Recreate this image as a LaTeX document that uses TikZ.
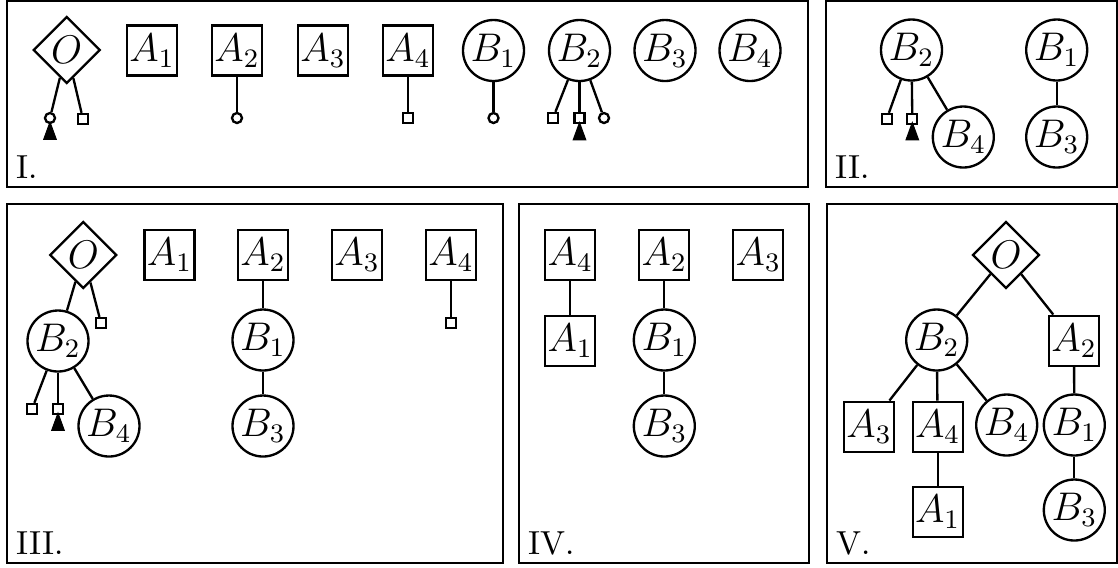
\documentclass[tikz,border=0pt]{standalone}
\usepackage{amsmath}
\usetikzlibrary{shapes}

\begin{document}
\begin{tikzpicture}[x=0.3pt,y=-0.3pt]
\useasboundingbox (0,0) rectangle (1118,567);
\begin{scope}
	\tikzstyle{every node}=[font=\large, line width=0.7pt, inner sep=0pt, align=center]
	\tikzstyle{amod}=[draw, rectangle, minimum size=15pt]
	\tikzstyle{bmod}=[draw, circle, minimum size=18.3pt]
	\tikzstyle{omod}=[draw, diamond, minimum size=20.1pt]
	\tikzstyle{sqpin}=[draw, rectangle, minimum size=3pt]
	\tikzstyle{cipin}=[draw, circle, minimum size=3pt]
	\tikzstyle{tipmark}=[draw, fill, line width=0.3pt, isosceles triangle, shape border rotate=90, isosceles triangle stretches, minimum height=5.2pt, minimum width=3.8pt]
	\tikzstyle{frame}=[line width=0.5pt]
	\tikzstyle{tag}=[font=\normalsize, anchor=base west]
	\tikzstyle{edge}=[line width=0.7pt]

	% frames
	\draw [frame] (7,1) rectangle (808,187);
	\draw [frame] (826,1) rectangle (1117,187);
	\draw [frame] (7,204) rectangle (503,563);
	\draw [frame] (519,204) rectangle (809,563);
	\draw [frame] (827,204) rectangle (1117,563);

	% I.
	\node[omod] (Io) at (66.7,50) {$O$};
	\node[amod] (Ia1) at (152,50.5) {$A_1$};
	\node[amod] (Ia2) at (237,50.5) {$A_2$};
	\node[amod] (Ia3) at (323,50.5) {$A_3$};
	\node[amod] (Ia4) at (408,50.5) {$A_4$};
	\node[bmod] (Ib1) at (493.5,50.5) {$B_1$};
	\node[bmod] (Ib2) at (579.5,50.5) {$B_2$};
	\node[bmod] (Ib3) at (665,50.5) {$B_3$};
	\node[bmod] (Ib4) at (750,50.5) {$B_4$};
	\node[cipin] (Iop1) at (50,118) {};
	\node[sqpin] (Iop2) at (83,119) {};
	\node[cipin] (Ia2p) at (237,118) {};
	\node[sqpin] (Ia4p) at (408,118) {};
	\node[cipin] (Ib1p) at (493.5,118) {};
	\node[sqpin] (Ib2p1) at (553,118) {};
	\node[sqpin] (Ib2p2) at (579.5,118) {};
	\node[cipin] (Ib2p3) at (604,118) {};
	\node[tipmark] (Itip1) at (50,135) {};
	\node[tipmark] (Itip2) at (579.5,135.5) {};
	\node[tag] (tagI) at (15,178) {I.};

	\draw [edge] (Io) -- (Iop1);
	\draw [edge] (Io) -- (Iop2);
	\draw [edge] (Ia2) -- (Ia2p);
	\draw [edge] (Ia4) -- (Ia4p);
	\draw [edge] (Ib1) -- (Ib1p);
	\draw [edge] (Ib2) -- (Ib2p1);
	\draw [edge] (Ib2) -- (Ib2p2);
	\draw [edge] (Ib2) -- (Ib2p3);

	% II.
	\node[bmod] (IIb2) at (911.5,50) {$B_2$};
	\node[bmod] (IIb4) at (963.3,137) {$B_4$};
	\node[bmod] (IIb1) at (1056.7,50) {$B_1$};
	\node[bmod] (IIb3) at (1056.7,137) {$B_3$};
	\node[sqpin] (IIp1) at (886.7,119) {};
	\node[sqpin] (IIp2) at (912.3,119) {};
	\node[tipmark] (IItip) at (912.3,135.5) {};
	\node[tag] (tagII) at (834,178) {II.};

	\draw [edge] (IIb2) -- (IIp1);
	\draw [edge] (IIb2) -- (IIp2);
	\draw [edge] (IIb2) -- (IIb4);
	\draw [edge] (IIb1) -- (IIb3);

	% III.
	\node[omod] (IIIo) at (83.3,255) {$O$};
	\node[amod] (IIIa1) at (169.5,255) {$A_1$};
	\node[amod] (IIIa2) at (263,255) {$A_2$};
	\node[amod] (IIIa3) at (357,255) {$A_3$};
	\node[amod] (IIIa4) at (451,255) {$A_4$};
	\node[bmod] (IIIb2) at (58,341) {$B_2$};
	\node[bmod] (IIIb4) at (109,426) {$B_4$};
	\node[bmod] (IIIb1) at (263,340) {$B_1$};
	\node[bmod] (IIIb3) at (263,426) {$B_3$};
	\node[sqpin] (IIIop) at (101,323) {};
	\node[sqpin] (IIIa4p) at (451,323) {};
	\node[sqpin] (IIIb2p1) at (32,409) {};
	\node[sqpin] (IIIb2p2) at (58,409) {};
	\node[tipmark] (IIItip) at (58,426) {};
	\node[tag] (tagIII) at (15,554) {III.};

	\draw [edge] (IIIo) -- (IIIb2);
	\draw [edge] (IIIo) -- (IIIop);
	\draw [edge] (IIIb2) -- (IIIb2p1);
	\draw [edge] (IIIb2) -- (IIIb2p2);
	\draw [edge] (IIIb2) -- (IIIb4);
	\draw [edge] (IIIa2) -- (IIIb1);
	\draw [edge] (IIIb1) -- (IIIb3);
	\draw [edge] (IIIa4) -- (IIIa4p);

	% IV.
	\node[amod] (IVa4) at (570.3,255) {$A_4$};
	\node[amod] (IVa1) at (570.3,340.7) {$A_1$};
	\node[amod] (IVa2) at (664.3,255) {$A_2$};
	\node[bmod] (IVb1) at (664.3,340) {$B_1$};
	\node[bmod] (IVb3) at (664.3,426) {$B_3$};
	\node[amod] (IVa3) at (758.3,255) {$A_3$};
	\node[tag] (tagIV) at (527,554) {IV.};

	\draw [edge] (IVa4) -- (IVa1);
	\draw [edge] (IVa2) -- (IVb1);
	\draw [edge] (IVb1) -- (IVb3);

	% V.
	\node[omod] (Vo) at (1006,255) {$O$};
	\node[bmod] (Vb2) at (936.7,340) {$B_2$};
	\node[amod] (Va2) at (1074,340.7) {$A_2$};
	\node[amod] (Va3) at (869,426.7) {$A_3$};
	\node[amod] (Va4) at (937.7,426.7) {$A_4$};
	\node[bmod] (Vb4) at (1006.7,425) {$B_4$};
	\node[bmod] (Vb1) at (1074.3,425) {$B_1$};
	\node[amod] (Va1) at (937.7,511.7) {$A_1$};
	\node[bmod] (Vb3) at (1074.3,510) {$B_3$};
	\node[tag] (tagV) at (835,554) {V.};

	\draw [edge] (Vo) -- (Vb2);
	\draw [edge] (Vo) -- (Va2);
	\draw [edge] (Vb2) -- (Va3);
	\draw [edge] (Vb2) -- (Va4);
	\draw [edge] (Vb2) -- (Vb4);
	\draw [edge] (Va4) -- (Va1);
	\draw [edge] (Va2) -- (Vb1);
	\draw [edge] (Vb1) -- (Vb3);
\end{scope}
\end{tikzpicture}
\end{document}
